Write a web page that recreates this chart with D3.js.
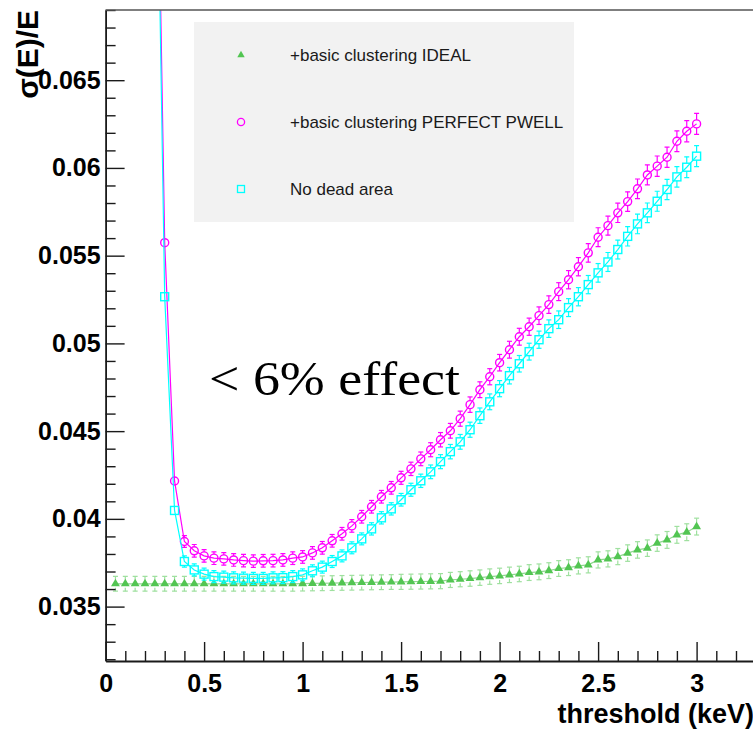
<!DOCTYPE html>
<html>
<head>
<meta charset="utf-8">
<script src="https://cdn.jsdelivr.net/npm/d3@7"></script>
<style>
  body { margin: 0; background: #fff; }
  svg { display: block; }
  .tick text { font-family: "Liberation Sans", Arial, sans-serif; font-weight: bold; font-size: 25px; fill: #000; }
</style>
</head>
<body>
<svg id="chart" width="753" height="731"></svg>
<script>
// Energy resolution versus hit threshold, three detector configurations.
const thresholds = [
  0.05, 0.10, 0.15, 0.20, 0.25, 0.30, 0.35, 0.40, 0.45, 0.50,
  0.55, 0.60, 0.65, 0.70, 0.75, 0.80, 0.85, 0.90, 0.95, 1.00,
  1.05, 1.10, 1.15, 1.20, 1.25, 1.30, 1.35, 1.40, 1.45, 1.50,
  1.55, 1.60, 1.65, 1.70, 1.75, 1.80, 1.85, 1.90, 1.95, 2.00,
  2.05, 2.10, 2.15, 2.20, 2.25, 2.30, 2.35, 2.40, 2.45, 2.50,
  2.55, 2.60, 2.65, 2.70, 2.75, 2.80, 2.85, 2.90, 2.95, 3.00
];

// +basic clustering IDEAL
const idealRes = [
  0.03630, 0.03630, 0.03630, 0.03630, 0.03630, 0.03630, 0.03630, 0.03630, 0.03630, 0.03630,
  0.03630, 0.03630, 0.03630, 0.03630, 0.03630, 0.03630, 0.03630, 0.03630, 0.03630, 0.03631,
  0.03632, 0.03633, 0.03634, 0.03635, 0.03636, 0.03637, 0.03638, 0.03639, 0.03640, 0.03641,
  0.03642, 0.03643, 0.03644, 0.03645, 0.03652, 0.03656, 0.03660, 0.03665, 0.03671, 0.03675,
  0.03681, 0.03686, 0.03694, 0.03698, 0.03705, 0.03717, 0.03722, 0.03732, 0.03738, 0.03766,
  0.03772, 0.03785, 0.03805, 0.03823, 0.03833, 0.03862, 0.03880, 0.03909, 0.03924, 0.03956
];
const idealErr = [
  0.00042, 0.00042, 0.00042, 0.00042, 0.00042, 0.00042, 0.00042, 0.00042, 0.00042, 0.00042,
  0.00042, 0.00042, 0.00042, 0.00042, 0.00042, 0.00042, 0.00042, 0.00042, 0.00042, 0.00042,
  0.00042, 0.00042, 0.00042, 0.00042, 0.00042, 0.00042, 0.00042, 0.00042, 0.00042, 0.00043,
  0.00043, 0.00043, 0.00043, 0.00043, 0.00043, 0.00043, 0.00044, 0.00044, 0.00044, 0.00044,
  0.00044, 0.00044, 0.00045, 0.00045, 0.00045, 0.00045, 0.00045, 0.00046, 0.00046, 0.00046,
  0.00046, 0.00046, 0.00047, 0.00047, 0.00047, 0.00047, 0.00048, 0.00048, 0.00048, 0.00048
];

// +basic clustering PERFECT PWELL
const pwellRes = [
  null, null, null, null, 0.08850, 0.05574, 0.04216, 0.03871, 0.03818, 0.03789,
  0.03776, 0.03772, 0.03766, 0.03762, 0.03759, 0.03761, 0.03762, 0.03766, 0.03776, 0.03783,
  0.03806, 0.03835, 0.03875, 0.03915, 0.03960, 0.04012, 0.04069, 0.04126, 0.04177, 0.04234,
  0.04285, 0.04342, 0.04394, 0.04451, 0.04502, 0.04571, 0.04651, 0.04736, 0.04810, 0.04890,
  0.04964, 0.05038, 0.05095, 0.05158, 0.05221, 0.05295, 0.05363, 0.05437, 0.05516, 0.05605,
  0.05671, 0.05744, 0.05808, 0.05881, 0.05960, 0.06010, 0.06061, 0.06152, 0.06209, 0.06251
];
const pwellErr = [
  null, null, null, null, 0.00020, 0.00020, 0.00020, 0.00034, 0.00036, 0.00036,
  0.00036, 0.00036, 0.00036, 0.00036, 0.00036, 0.00036, 0.00036, 0.00036, 0.00036, 0.00036,
  0.00036, 0.00036, 0.00036, 0.00036, 0.00036, 0.00036, 0.00036, 0.00036, 0.00036, 0.00037,
  0.00038, 0.00039, 0.00040, 0.00041, 0.00042, 0.00043, 0.00044, 0.00045, 0.00046, 0.00047,
  0.00048, 0.00048, 0.00049, 0.00050, 0.00050, 0.00051, 0.00052, 0.00052, 0.00053, 0.00054,
  0.00054, 0.00055, 0.00056, 0.00056, 0.00057, 0.00058, 0.00058, 0.00059, 0.00060, 0.00060
];

// No dead area
const noDeadRes = [
  null, null, null, null, 0.08700, 0.05266, 0.04048, 0.03757, 0.03709, 0.03685,
  0.03671, 0.03668, 0.03664, 0.03662, 0.03661, 0.03661, 0.03664, 0.03665, 0.03671, 0.03681,
  0.03704, 0.03725, 0.03757, 0.03789, 0.03835, 0.03886, 0.03943, 0.04006, 0.04057, 0.04109,
  0.04166, 0.04217, 0.04268, 0.04326, 0.04383, 0.04439, 0.04508, 0.04588, 0.04667, 0.04742,
  0.04816, 0.04884, 0.04953, 0.05021, 0.05084, 0.05135, 0.05204, 0.05266, 0.05335, 0.05402,
  0.05464, 0.05535, 0.05610, 0.05681, 0.05744, 0.05810, 0.05877, 0.05949, 0.06004, 0.06067
];
const noDeadErr = [
  null, null, null, null, 0.00020, 0.00020, 0.00020, 0.00032, 0.00034, 0.00034,
  0.00034, 0.00034, 0.00034, 0.00034, 0.00034, 0.00034, 0.00034, 0.00034, 0.00034, 0.00034,
  0.00034, 0.00034, 0.00034, 0.00034, 0.00034, 0.00034, 0.00035, 0.00035, 0.00035, 0.00036,
  0.00037, 0.00038, 0.00039, 0.00040, 0.00041, 0.00042, 0.00043, 0.00044, 0.00045, 0.00046,
  0.00047, 0.00047, 0.00048, 0.00049, 0.00050, 0.00050, 0.00051, 0.00052, 0.00052, 0.00053,
  0.00054, 0.00054, 0.00055, 0.00056, 0.00056, 0.00057, 0.00058, 0.00058, 0.00059, 0.00060
];

const seriesNames = ["+basic clustering IDEAL", "+basic clustering PERFECT PWELL", "No dead area"];

const xTickValues = [0, 0.5, 1, 1.5, 2, 2.5, 3];
const xTickLabels = ["0", "0.5", "1", "1.5", "2", "2.5", "3"];
const yTickValues = [0.035, 0.04, 0.045, 0.05, 0.055, 0.06, 0.065];
const yTickLabels = ["0.035", "0.04", "0.045", "0.05", "0.055", "0.06", "0.065"];

const xTitle = "threshold (keV)";
const yTitle = "σ(E)/E";
const note = "< 6% effect";

// ---- layout ----
const svg = d3.select("#chart");
const plot = { left: 105.6, right: 105.6 + 197 * 3.3, top: 10, bottom: 661 };

const x = d3.scaleLinear().domain([0, 3.3]).range([plot.left, plot.right]);
const y = d3.scaleLinear().domain([0.0319, 0.0690]).range([plot.bottom, plot.top]);

svg.append("rect").attr("width", 753).attr("height", 731).attr("fill", "#fff");

svg.append("defs").append("clipPath").attr("id", "plotClip")
  .append("rect")
  .attr("x", plot.left).attr("y", plot.top)
  .attr("width", plot.right - plot.left).attr("height", plot.bottom - plot.top);

// ---- legend box ----
const legend = svg.append("g");
legend.append("rect")
  .attr("x", 194).attr("y", 22).attr("width", 380).attr("height", 200)
  .attr("fill", "#f2f2f2");

// ---- annotation ----
svg.append("text")
  .attr("x", 209).attr("y", 395)
  .attr("font-family", "'Liberation Serif', 'DejaVu Serif', serif")
  .attr("font-size", 49)
  .attr("textLength", 251).attr("lengthAdjust", "spacingAndGlyphs")
  .attr("fill", "#000")
  .text(note);

// ---- series ----
const series = [
  { res: idealRes, err: idealErr, color: "#52c552", barColor: "#9fe09f", lineColor: "#8fd88f", marker: "triangle" },
  { res: pwellRes, err: pwellErr, color: "#ff00ff", barColor: "#ff00ff", lineColor: "#ff00ff", marker: "circle" },
  { res: noDeadRes, err: noDeadErr, color: "#00ffff", barColor: "#00ffff", lineColor: "#00ffff", marker: "square" }
];

const plotG = svg.append("g").attr("clip-path", "url(#plotClip)");

const markerHalf = 4;

function drawMarker(g, type, cx, cy, color) {
  if (type === "triangle") {
    g.append("path")
      .attr("d", d3.symbol().type(d3.symbolTriangle).size(34)())
      .attr("transform", `translate(${cx},${cy})`)
      .attr("fill", color);
  } else if (type === "circle") {
    g.append("circle").attr("cx", cx).attr("cy", cy).attr("r", 4)
      .attr("fill", "none").attr("stroke", color).attr("stroke-width", 1.4);
  } else {
    g.append("rect").attr("x", cx - 4).attr("y", cy - 4).attr("width", 8).attr("height", 8)
      .attr("fill", "none").attr("stroke", color).attr("stroke-width", 1.4);
  }
}

series.forEach(s => {
  const pts = thresholds.map((t, i) => ({ t, v: s.res[i], e: s.err[i] })).filter(p => p.v != null);

  plotG.append("path")
    .datum(pts)
    .attr("fill", "none")
    .attr("stroke", s.lineColor)
    .attr("stroke-width", 1.2)
    .attr("d", d3.line().x(p => x(p.t)).y(p => y(p.v)));

  const g = plotG.append("g");
  pts.forEach(p => {
    const cx = x(p.t), cy = y(p.v);
    const yHi = y(p.v + p.e), yLo = y(p.v - p.e);
    if (cy - yHi > markerHalf) {
      g.append("line").attr("x1", cx).attr("x2", cx).attr("y1", yHi).attr("y2", cy - markerHalf)
        .attr("stroke", s.barColor).attr("stroke-width", 1.2);
      g.append("line").attr("x1", cx - 2.5).attr("x2", cx + 2.5).attr("y1", yHi).attr("y2", yHi)
        .attr("stroke", s.barColor).attr("stroke-width", 1.2);
      g.append("line").attr("x1", cx).attr("x2", cx).attr("y1", cy + markerHalf).attr("y2", yLo)
        .attr("stroke", s.barColor).attr("stroke-width", 1.2);
      g.append("line").attr("x1", cx - 2.5).attr("x2", cx + 2.5).attr("y1", yLo).attr("y2", yLo)
        .attr("stroke", s.barColor).attr("stroke-width", 1.2);
    }
    drawMarker(g, s.marker, cx, cy, s.color);
  });
});

// ---- legend entries ----
const legendRows = [55, 122, 189];
series.forEach((s, i) => {
  const g = legend.append("g");
  if (s.marker === "triangle") {
    g.append("path")
      .attr("d", d3.symbol().type(d3.symbolTriangle).size(24)())
      .attr("transform", `translate(241,${legendRows[i]})`)
      .attr("fill", s.color);
  } else if (s.marker === "circle") {
    g.append("circle").attr("cx", 241).attr("cy", legendRows[i]).attr("r", 3.6)
      .attr("fill", "none").attr("stroke", s.color).attr("stroke-width", 1.3);
  } else {
    g.append("rect").attr("x", 237.5).attr("y", legendRows[i] - 3.5).attr("width", 7).attr("height", 7)
      .attr("fill", "none").attr("stroke", s.color).attr("stroke-width", 1.3);
  }
  g.append("text")
    .attr("x", 290).attr("y", legendRows[i] + 5.5)
    .attr("font-family", "'Liberation Sans', Arial, sans-serif")
    .attr("font-size", 17)
    .attr("fill", "#1a1a1a")
    .text(seriesNames[i]);
});

// ---- axes ----
const axisColor = "#1a1a1a";

const xAxis = svg.append("g").attr("transform", `translate(0,${plot.bottom})`)
  .call(d3.axisBottom(x).tickValues(xTickValues).tickFormat((d, i) => xTickLabels[i])
    .tickSize(-19).tickSizeOuter(0));
xAxis.selectAll(".tick text").attr("y", 31).attr("dy", 0);

const xMinor = svg.append("g").attr("transform", `translate(0,${plot.bottom})`)
  .call(d3.axisBottom(x).tickValues(x.ticks(33).filter(t => !xTickValues.some(m => Math.abs(m - t) < 1e-9)))
    .tickFormat("").tickSize(-10).tickSizeOuter(0));
xMinor.select(".domain").remove();

const yAxis = svg.append("g").attr("transform", `translate(${plot.left},0)`)
  .call(d3.axisLeft(y).tickValues(yTickValues).tickFormat((d, i) => yTickLabels[i])
    .tickSize(-19).tickSizeOuter(0).tickPadding(5));

const yMinor = svg.append("g").attr("transform", `translate(${plot.left},0)`)
  .call(d3.axisLeft(y).tickValues(d3.ticks(0.032, 0.069, 37).filter(t => !yTickValues.some(m => Math.abs(m - t) < 1e-9)))
    .tickFormat("").tickSize(-10).tickSizeOuter(0));
yMinor.select(".domain").remove();

svg.selectAll(".domain").attr("stroke", axisColor).attr("stroke-width", 1.8);
svg.selectAll(".tick line").attr("stroke", axisColor).attr("stroke-width", 1.4);

// top frame edge
svg.append("line")
  .attr("x1", plot.left).attr("x2", plot.right).attr("y1", plot.top).attr("y2", plot.top)
  .attr("stroke", "#555").attr("stroke-width", 1.6);

// ---- titles ----
svg.append("text")
  .attr("x", 754).attr("y", 723)
  .attr("text-anchor", "end")
  .attr("font-family", "'Liberation Sans', Arial, sans-serif")
  .attr("font-weight", "bold").attr("font-size", 27)
  .text(xTitle);

svg.append("text")
  .attr("transform", "translate(38,10) rotate(-90)")
  .attr("text-anchor", "end")
  .attr("font-family", "'Liberation Sans', Arial, sans-serif")
  .attr("font-weight", "bold").attr("font-size", 30)
  .text(yTitle);
</script>
</body>
</html>
